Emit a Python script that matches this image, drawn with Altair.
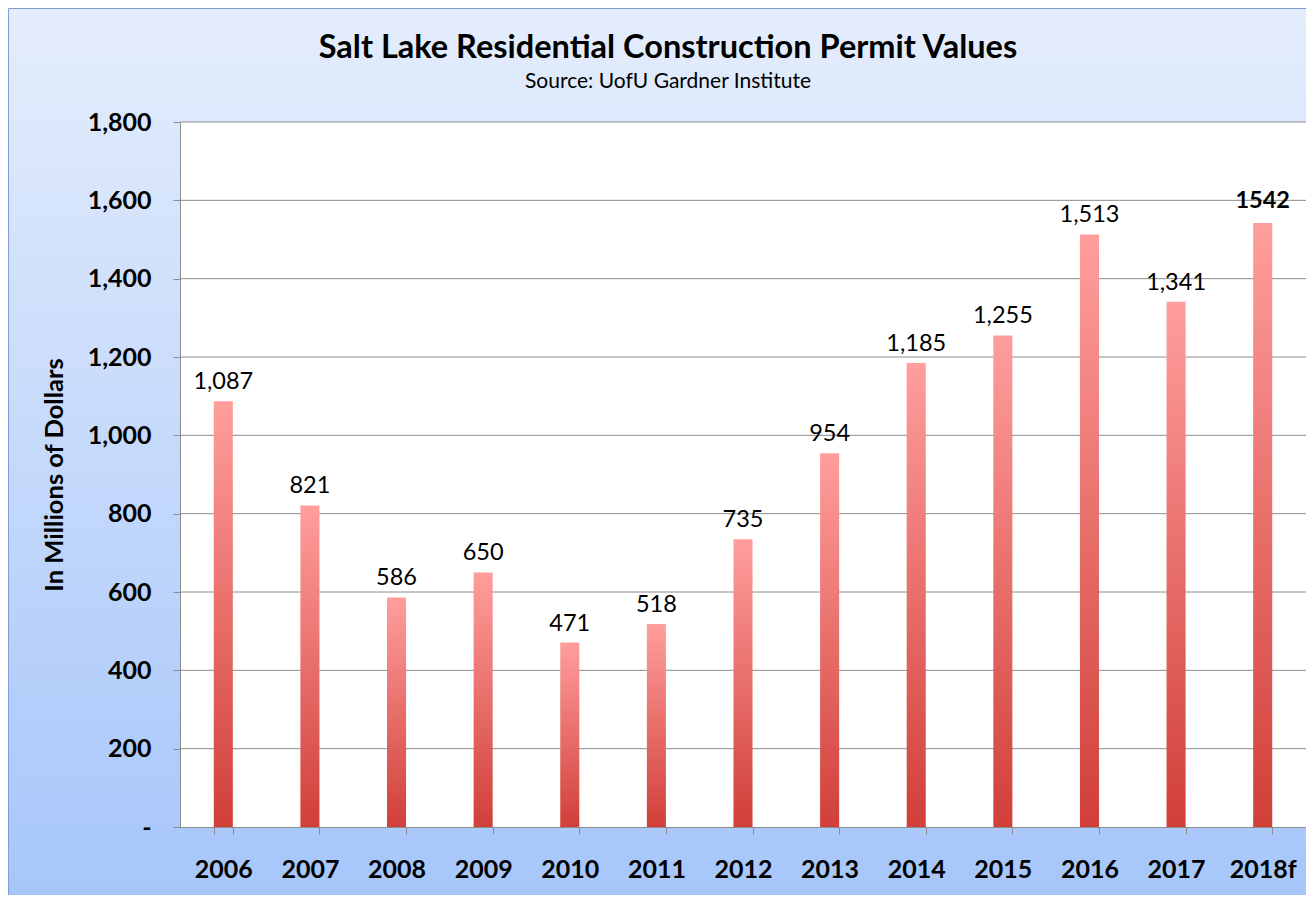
import altair as alt
import pandas as pd

years = ["2006", "2007", "2008", "2009", "2010", "2011", "2012",
         "2013", "2014", "2015", "2016", "2017", "2018f"]
values = [1087, 821, 586, 650, 471, 518, 735, 954, 1185, 1255, 1513, 1341, 1542]
labels = ["1,087", "821", "586", "650", "471", "518", "735", "954",
          "1,185", "1,255", "1,513", "1,341", "1542"]
forecast = [False] * 12 + [True]
grid_values = [200, 400, 600, 800, 1000, 1200, 1400, 1600, 1800]
title_text = "Salt Lake Residential Construction Permit Values"
subtitle_text = "Source: UofU Gardner Institute"

FONT = "Lato"
W, H = 1126, 705
PL, PT, PR, PB = 172, 114, 0, 68

df = pd.DataFrame({"year": years, "value": values, "label": labels, "forecast": forecast})
grid_df = pd.DataFrame({"g": grid_values})

x_enc = alt.X("year:N", sort=years,
              scale=alt.Scale(paddingInner=0.78, paddingOuter=0.39),
              axis=alt.Axis(title=None, tickBand="extent", labelAngle=0,
                            labelFont=FONT, labelFontSize=25, labelFontWeight="bold",
                            labelColor="black", labelPadding=23, tickSize=7,
                            tickColor="#8c8c8c", domainColor="#8c8c8c",
                            grid=False, zindex=1))
y_scale = alt.Scale(domain=[0, 1800], nice=False)
y_enc = alt.Y("value:Q", scale=y_scale,
              axis=alt.Axis(title="In Millions of Dollars", values=grid_values + [0],
                            labelExpr="datum.value == 0 ? '-' : format(datum.value, ',')",
                            labelFont=FONT, labelFontSize=25, labelFontWeight="bold",
                            labelColor="black", labelPadding=22, tickSize=7,
                            tickColor="#8c8c8c", domainColor="#8c8c8c", grid=False,
                            titleFont=FONT, titleFontSize=25.5, titleFontWeight="bold",
                            titleColor="black", titleX=-126, titleY=H / 2,
                            titleAngle=270, titleAlign="center", titleBaseline="middle",
                            zindex=1))

one = alt.Data(values=[{"a": 1}])

bg = alt.Chart(one).mark_rect(
    fill=alt.Gradient(gradient="linear", x1=0, y1=0, x2=0, y2=1,
                      stops=[alt.GradientStop(color="#e4edfc", offset=0),
                             alt.GradientStop(color="#a5c5fa", offset=1)]),
    stroke="#7f9fd4", strokeWidth=1
).encode(x=alt.value(-PL + 0.5), x2=alt.value(W + PR + 20),
         y=alt.value(-PT + 0.5), y2=alt.value(H + PB + 20))

white = alt.Chart(one).mark_rect(fill="white").encode(
    x=alt.value(0), x2=alt.value(W), y=alt.value(0), y2=alt.value(H))

title = alt.Chart(one).mark_text(
    text=title_text, font=FONT, fontSize=32.5, fontWeight="bold", color="black",
    align="center", baseline="middle"
).encode(x=alt.value(668 - 8 - PL), y=alt.value(48 - 8 - PT))

subtitle = alt.Chart(one).mark_text(
    text=subtitle_text, font=FONT, fontSize=21, color="black",
    align="center", baseline="middle"
).encode(x=alt.value(668 - 8 - PL), y=alt.value(82 - 8 - PT))

grid = alt.Chart(grid_df).mark_rule(color="#8c8c8c", strokeWidth=1).encode(
    y=alt.Y("g:Q", scale=y_scale))

bars = alt.Chart(df).mark_bar(
    fill=alt.Gradient(gradient="linear", x1=0, y1=0, x2=0, y2=1,
                      stops=[alt.GradientStop(color="#ff9e9c", offset=0),
                             alt.GradientStop(color="#d13f39", offset=1)])
).encode(x=x_enc, y=y_enc)

txt = alt.Chart(df).transform_filter("!datum.forecast").mark_text(
    font=FONT, fontSize=23.5, color="black", baseline="alphabetic", dy=-12
).encode(x=alt.X("year:N", sort=years), y=alt.Y("value:Q", scale=y_scale), text="label:N")

txt_f = alt.Chart(df).transform_filter("datum.forecast").mark_text(
    font=FONT, fontSize=23.5, fontWeight="bold", color="black", baseline="alphabetic", dy=-15
).encode(x=alt.X("year:N", sort=years), y=alt.Y("value:Q", scale=y_scale), text="label:N")

chart = alt.layer(bg, white, title, subtitle, grid, bars, txt, txt_f).properties(
    width=W, height=H,
    autosize=alt.AutoSizeParams(type="none"),
    padding={"left": PL, "top": PT, "right": PR, "bottom": PB}
).configure_view(stroke=None)

chart.save("out.html", embed_options={"renderer": "svg", "actions": False})
